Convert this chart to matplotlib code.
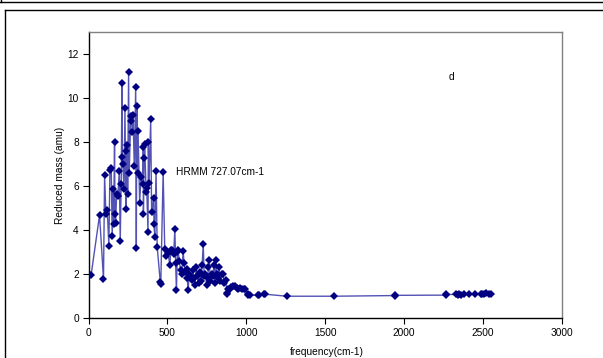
import matplotlib
matplotlib.use("Agg")
import matplotlib.pyplot as plt
from matplotlib.lines import Line2D

frequency = [5, 17, 70, 95, 102, 110, 119, 129, 136, 144, 150, 157, 159, 165, 168, 172,
             178, 186, 195, 201, 207, 212, 215, 218, 225, 231, 237, 240, 246, 248, 254,
             258, 267, 272, 278, 282, 290, 299, 303, 306, 311, 314, 324, 333, 345, 347,
             348, 352, 356, 365, 369, 377, 379, 384, 394, 400, 413, 415, 420, 428, 435,
             455, 458, 473, 483, 494, 505, 515, 522, 530, 540, 547, 552, 557, 563, 568,
             575, 583, 590, 600, 605, 612, 621, 626, 631, 638, 645, 653, 660, 668, 675,
             682, 690, 697, 705, 712, 720, 727, 733, 740, 748, 755, 760, 765, 772, 780,
             787, 795, 800, 807, 812, 820, 828, 835, 843, 850, 860, 871, 875, 879, 886,
             895, 905, 917, 928, 940, 950, 960, 970, 985, 992, 1009, 1013, 1024, 1076,
             1083, 1113, 1120, 1257, 1553, 1939, 1945, 2263, 2267, 2326, 2340, 2348,
             2363, 2380, 2412, 2448, 2486, 2495, 2503, 2518, 2539, 2549]
reduced_mass = [2.0, 1.97, 4.68, 1.76, 6.5, 4.72, 4.9, 3.29, 6.75, 6.83, 3.74, 5.85, 4.27,
                8.0, 4.72, 4.3, 5.62, 5.55, 6.68, 3.49, 6.1, 10.66, 7.31, 6.98, 5.85, 9.56,
                4.95, 7.58, 7.88, 5.62, 11.19, 6.6, 8.96, 9.2, 8.45, 9.23, 6.9, 10.48, 3.17,
                9.64, 6.57, 8.51, 5.25, 6.4, 6.08, 7.79, 4.75, 7.26, 7.91, 5.74, 5.9, 3.89,
                7.98, 6.15, 9.03, 4.8, 5.47, 4.27, 3.67, 6.68, 3.25, 1.62, 1.56, 6.63, 3.14,
                2.84, 2.95, 2.39, 3.1, 3.07, 2.9, 4.05, 2.5, 1.26, 3.0, 3.07, 2.6, 2.2, 2.0,
                3.04, 2.5, 2.1, 2.24, 1.8, 1.26, 2.0, 1.9, 1.71, 2.2, 1.8, 1.5, 2.3, 1.9,
                1.6, 2.1, 1.7, 2.4, 3.37, 1.9, 2.0, 1.49, 1.8, 2.3, 2.65, 1.7, 2.0, 1.9,
                2.4, 1.6, 2.62, 2.0, 1.8, 2.3, 1.7, 1.98, 2.01, 1.6, 1.71, 1.14, 1.11, 1.34,
                1.3, 1.4, 1.46, 1.44, 1.35, 1.3, 1.38, 1.34, 1.3, 1.34, 1.07, 1.04, 1.04,
                1.04, 1.04, 1.11, 1.08, 0.99, 0.99, 1.02, 1.03, 1.04, 1.07, 1.07, 1.05,
                1.07, 1.05, 1.07, 1.07, 1.07, 1.08, 1.11, 1.11, 1.12, 1.1, 1.09]

x_ticks = [0, 500, 1000, 1500, 2000, 2500, 3000]
y_ticks = [0, 2, 4, 6, 8, 10, 12]
x_label = "frequency(cm-1)"
y_label = "Reduced mass (amu)"
annotation = "HRMM 727.07cm-1"
panel_label = "d"

plt.rcParams['font.family'] = ['Liberation Sans', 'DejaVu Sans']
W, H = 603, 358
fig = plt.figure(figsize=(W / 100, H / 100), dpi=100)

# outer frames (figure pixel coordinates)
def fline(xs, ys, **kw):
    fig.add_artist(Line2D([x / W for x in xs], [1 - y / H for y in ys],
                          transform=fig.transFigure, color='black', lw=1.0, **kw))

fline([0, W], [1.5, 1.5])
fline([0.5, 0.5], [0, 1.5])
fline([5, W], [10, 10])
fline([5, 5], [10, H])

left, right, top, bottom = 88.5, 562, 32, 318
ax = fig.add_axes([left / W, 1 - bottom / H, (right - left) / W, (bottom - top) / H])
ax.plot(frequency, reduced_mass, color='#5252b4', lw=1.0, zorder=2)
ax.plot(frequency, reduced_mass, linestyle='none', marker='D', markersize=4.0,
        color='#000080', markeredgewidth=0, zorder=3)

ax.set_xlim(0, 3000)
ax.set_ylim(0, 13)
ax.set_xticks(x_ticks)
ax.set_yticks(y_ticks)
ax.tick_params(axis='both', direction='out', length=4, width=0.8, labelsize=7.3,
               colors='black', pad=3)
for s in ['top', 'right']:
    ax.spines[s].set_color('#808080')
    ax.spines[s].set_linewidth(1.0)
for s in ['left', 'bottom']:
    ax.spines[s].set_color('black')
    ax.spines[s].set_linewidth(1.0)

fig.text(60 / W, 1 - 175 / H, y_label, rotation=90, ha='center', va='center', fontsize=7.3)
fig.text(327 / W, 1 - 352 / H, x_label, ha='center', va='center', fontsize=7.3)
fig.text(176 / W, 1 - 172 / H, annotation, ha='left', va='center', fontsize=7.3)
fig.text(451 / W, 1 - 77 / H, panel_label, ha='center', va='center', fontsize=7.3)

fig.savefig('out.png', dpi=100)
